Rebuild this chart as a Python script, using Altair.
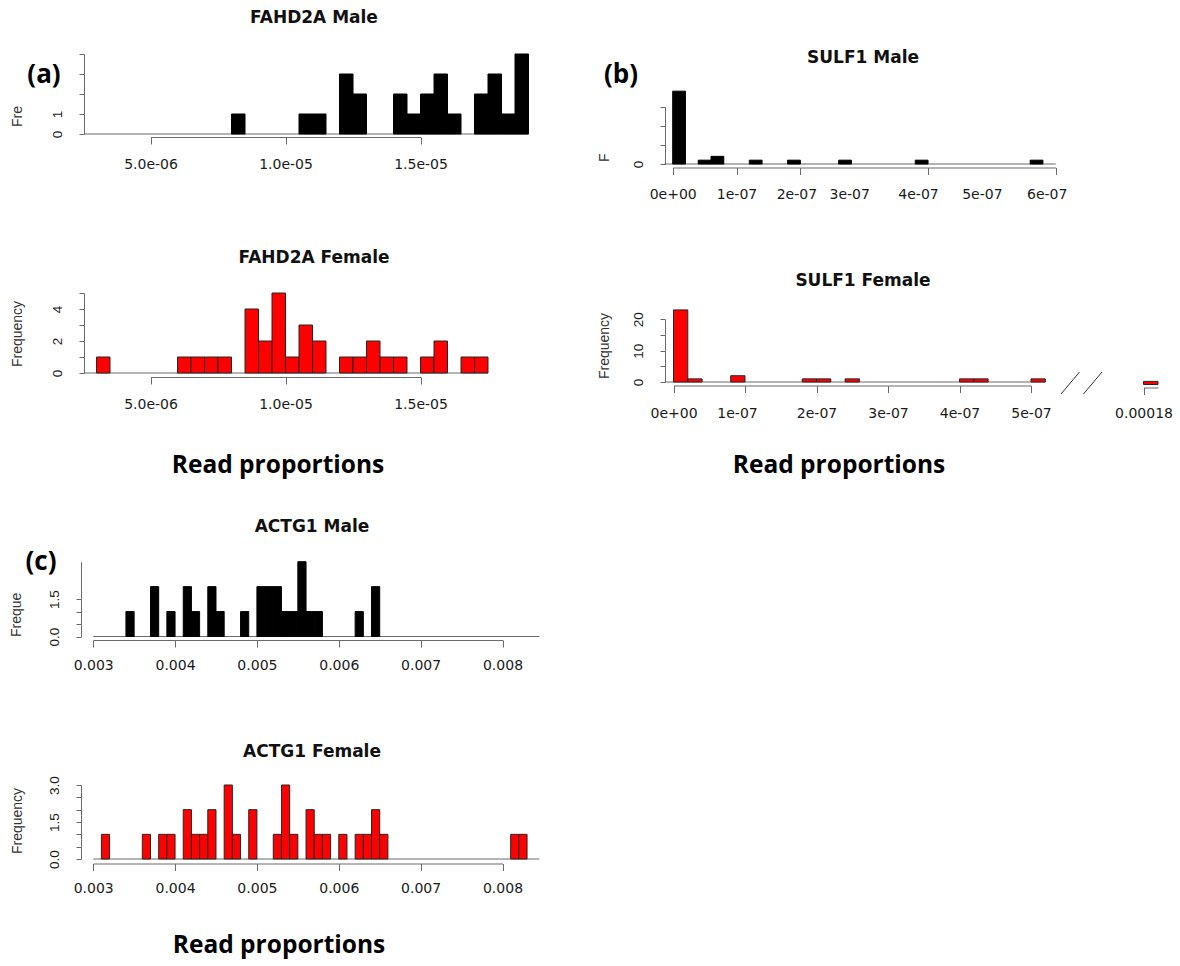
import altair as alt
import pandas as pd

# ---------------- histogram counts (one entry per bin) ----------------
fahd2a_bin_width = 5e-7
fahd2a_male_first_break = 8.0e-6
fahd2a_male_counts = [1, 0, 0, 0, 0, 1, 1, 0, 3, 2, 0, 0, 2, 1, 2, 3, 1, 0, 2, 3, 1, 4]
fahd2a_female_first_break = 3.0e-6
fahd2a_female_counts = [1, 0, 0, 0, 0, 0, 1, 1, 1, 1, 0, 4, 2, 5, 1, 3, 2, 0, 1, 1,
                        2, 1, 1, 0, 1, 2, 0, 1, 1]

sulf1_bin_width = 2e-8
sulf1_first_break = 0.0
sulf1_male_counts = [19, 0, 1, 2, 0, 0, 1, 0, 0, 1, 0, 0, 0, 1, 0, 0, 0, 0, 0, 1,
                     0, 0, 0, 0, 0, 0, 0, 0, 1, 0]
sulf1_female_counts = [23, 1, 0, 0, 2, 0, 0, 0, 0, 1, 1, 0, 1, 0, 0, 0, 0, 0, 0, 0,
                       1, 1, 0, 0, 0, 1]
sulf1_female_outlier_break = 0.00018
sulf1_female_outlier_width = 2e-6
sulf1_female_outlier_counts = [1]

actg1_bin_width = 1e-4
actg1_first_break = 0.003
actg1_male_counts = [0, 0, 0, 0, 1, 0, 0, 2, 0, 1, 0, 2, 1, 0, 2, 1, 0, 0, 1, 0,
                     2, 2, 2, 1, 1, 3, 1, 1, 0, 0, 0, 0, 1, 0, 2, 0, 0, 0, 0, 0,
                     0, 0, 0, 0, 0, 0, 0, 0, 0, 0, 0, 0, 0]
actg1_female_counts = [0, 1, 0, 0, 0, 0, 1, 0, 1, 1, 0, 2, 1, 1, 2, 0, 3, 1, 0, 2,
                       0, 0, 1, 3, 1, 0, 2, 1, 1, 0, 1, 0, 1, 1, 2, 1, 0, 0, 0, 0,
                       0, 0, 0, 0, 0, 0, 0, 0, 0, 0, 0, 1, 1]

# ---------------- tick values and their labels ----------------
fahd2a_xticks = [5e-06, 1e-05, 1.5e-05]
fahd2a_xlabels = ["5.0e-06", "1.0e-05", "1.5e-05"]
sulf1_male_xticks = [0, 1e-07, 2e-07, 3e-07, 4e-07, 5e-07, 6e-07]
sulf1_male_xlabels = ["0e+00", "1e-07", "2e-07", "3e-07", "4e-07", "5e-07", "6e-07"]
sulf1_female_xticks = [0, 1e-07, 2e-07, 3e-07, 4e-07, 5e-07]
sulf1_female_xlabels = ["0e+00", "1e-07", "2e-07", "3e-07", "4e-07", "5e-07"]
sulf1_outlier_xticks = [0.00018]
sulf1_outlier_xlabels = ["0.00018"]
actg1_xticks = [0.003, 0.004, 0.005, 0.006, 0.007, 0.008]
actg1_xlabels = ["0.003", "0.004", "0.005", "0.006", "0.007", "0.008"]

fahd2a_male_yticks = [0, 1, 2, 3, 4]
fahd2a_male_ylabels = ["0", "1", "", "", ""]
fahd2a_female_yticks = [0, 1, 2, 3, 4, 5]
fahd2a_female_ylabels = ["0", "", "2", "", "4", ""]
sulf1_male_yticks = [0, 5, 10, 15]
sulf1_male_ylabels = ["0", "", "", ""]
sulf1_female_yticks = [0, 5, 10, 15, 20]
sulf1_female_ylabels = ["0", "", "10", "", "20"]
actg1_male_yticks = [0, 0.5, 1, 1.5]
actg1_male_ylabels = ["0.0", "", "", "1.5"]
actg1_female_yticks = [0, 0.5, 1, 1.5, 2, 2.5, 3]
actg1_female_ylabels = ["0.0", "", "", "1.5", "", "", "3.0"]

# ---------------- styling / layout ----------------
H = 966
AX = "#6a6a6a"
TXT = "#1a1a1a"
TICK_X = 7
TICK_Y = 5


def bins(first, width, counts):
    return pd.DataFrame({
        "lo": [first + i * width for i in range(len(counts))],
        "hi": [first + (i + 1) * width for i in range(len(counts))],
        "count": counts,
        "base": [0] * len(counts),
    })


def lin(d0, d1, r0, r1):
    return alt.Scale(domain=[d0, d1], range=[r0, r1], nice=False, zero=False)


def label_expr(values, labels):
    parts = [f"datum.value == {v!r} ? '{s}'" for v, s in zip(values, labels)]
    return " : ".join(parts) + " : ''"


def x_axis(values, labels, line_y, label_y, **extra):
    return alt.Axis(
        orient="bottom", offset=line_y - H, values=values,
        labelExpr=label_expr(values, labels), title=None, grid=False,
        domainColor=AX, domainWidth=1, tickColor=AX, tickWidth=1, tickSize=TICK_X,
        labelFont="DejaVu Sans", labelFontSize=14, labelColor=TXT,
        labelPadding=label_y - 6 - line_y - TICK_X, labelAngle=0,
        labelAlign="center", labelBaseline="top", labelFlush=False,
        labelOverlap=False, **extra)


def y_axis(values, labels, axis_x):
    return alt.Axis(
        orient="left", offset=-axis_x, values=values,
        labelExpr=label_expr(values, labels), title=None, grid=False,
        domainColor=AX, domainWidth=1, tickColor=AX, tickWidth=1, tickSize=TICK_Y,
        labelFont="Liberation Sans", labelFontSize=13.5, labelColor=TXT,
        labelPadding=15, labelAngle=270, labelAlign="center",
        labelBaseline="bottom", labelFlush=False, labelOverlap=False)


def histogram(df, fill, stroke, xs, ys, xax, yax, base_lo=None, base_hi=None):
    out = []
    if base_lo is not None:
        base = alt.Chart(pd.DataFrame({"lo": [base_lo], "hi": [base_hi], "count": [0]})).mark_rule(
            color=AX, strokeWidth=1).encode(
            x=alt.X("lo:Q", scale=xs, axis=None), x2=alt.X2("hi"),
            y=alt.Y("count:Q", scale=ys, axis=None))
        out.append(base)
    bars = alt.Chart(df).transform_filter("datum.count > 0").mark_rect(
        fill=fill, stroke=stroke, strokeWidth=1).encode(
        x=alt.X("lo:Q", scale=xs, axis=xax), x2=alt.X2("hi"),
        y=alt.Y("count:Q", scale=ys, axis=yax), y2=alt.Y2("base"))
    out.append(bars)
    return out


MALE_FILL, MALE_STROKE = "#000000", "#000000"
FEMALE_FILL, FEMALE_STROKE = "#ff0000", "#262626"

layers = []

# FAHD2A (shared horizontal placement for both sexes)
fahd_x = lin(5e-06, 1.5e-05, 150.5, 420.5)
layers += histogram(
    bins(fahd2a_male_first_break, fahd2a_bin_width, fahd2a_male_counts),
    MALE_FILL, MALE_STROKE, fahd_x, lin(0, 4, 134, 54),
    x_axis(fahd2a_xticks, fahd2a_xlabels, 137, 163),
    y_axis(fahd2a_male_yticks, fahd2a_male_ylabels, 84),
    2.55e-6, 1.9e-5)
layers += histogram(
    bins(fahd2a_female_first_break, fahd2a_bin_width, fahd2a_female_counts),
    FEMALE_FILL, FEMALE_STROKE, fahd_x, lin(0, 5, 373, 293),
    x_axis(fahd2a_xticks, fahd2a_xlabels, 377, 403.5),
    y_axis(fahd2a_female_yticks, fahd2a_female_ylabels, 84),
    2.55e-6, 1.75e-5)

# SULF1 male
sulf_m_offsets = {"condition": [
    {"test": "datum.value == 2e-07", "value": -4},
    {"test": "datum.value == 3e-07", "value": -15},
    {"test": "datum.value == 4e-07", "value": -10},
    {"test": "datum.value == 5e-07", "value": -10},
    {"test": "datum.value == 6e-07", "value": -9}], "value": 0}
sulf_m_tick_opacity = {"condition": {"test": "datum.value == 3e-07 || datum.value == 5e-07",
                                     "value": 0}, "value": 1}
layers += histogram(
    bins(sulf1_first_break, sulf1_bin_width, sulf1_male_counts),
    MALE_FILL, MALE_STROKE, lin(0, 6e-07, 672.7, 1055.7), lin(0, 15, 164, 106.5),
    x_axis(sulf1_male_xticks, sulf1_male_xlabels, 167.5, 193,
           labelOffset=sulf_m_offsets, tickOpacity=sulf_m_tick_opacity),
    y_axis(sulf1_male_yticks, sulf1_male_ylabels, 665),
    -1.3e-8, 6e-07)

# SULF1 female, main range
layers += histogram(
    bins(sulf1_first_break, sulf1_bin_width, sulf1_female_counts),
    FEMALE_FILL, FEMALE_STROKE, lin(0, 5e-07, 673.5, 1031), lin(0, 20, 382, 319.3),
    x_axis(sulf1_female_xticks, sulf1_female_xlabels, 385.5, 412,
           labelOffset={"condition": {"test": "datum.value == 1e-07", "value": -8}, "value": 0}),
    y_axis(sulf1_female_yticks, sulf1_female_ylabels, 665),
    -1.2e-8, 5.2e-07)

# SULF1 female, outlier beyond the axis break
layers += histogram(
    bins(sulf1_female_outlier_break, sulf1_female_outlier_width, sulf1_female_outlier_counts),
    FEMALE_FILL, FEMALE_STROKE,
    lin(0.00018, 0.00018 + sulf1_female_outlier_width, 1143.5, 1158),
    lin(0, 20, 384.5, 321.8),
    x_axis(sulf1_outlier_xticks, sulf1_outlier_xlabels, 387.5, 412.7),
    None)

# ACTG1
actg_x = lin(0.003, 0.008, 93.2, 502.5)
layers += histogram(
    bins(actg1_first_break, actg1_bin_width, actg1_male_counts),
    MALE_FILL, MALE_STROKE, actg_x, lin(0, 3, 636.5, 561.7),
    x_axis(actg1_xticks, actg1_xlabels, 640, 664),
    y_axis(actg1_male_yticks, actg1_male_ylabels, 81),
    0.003, 0.00845)
layers += histogram(
    bins(actg1_first_break, actg1_bin_width, actg1_female_counts),
    FEMALE_FILL, FEMALE_STROKE, actg_x, lin(0, 3, 859, 785),
    x_axis(actg1_xticks, actg1_xlabels, 863.5, 887.7),
    y_axis(actg1_female_yticks, actg1_female_ylabels, 81),
    0.003, 0.00845)

# ---------------- annotations ----------------
def text_layer(df, **mark):
    return alt.Chart(df).mark_text(**mark).encode(
        x=alt.X("px:Q", scale=None, axis=None),
        y=alt.Y("py:Q", scale=None, axis=None),
        text=alt.Text("label:N"))


panel_titles = pd.DataFrame({
    "label": ["FAHD2A Male", "FAHD2A Female", "SULF1 Male", "SULF1 Female",
              "ACTG1 Male", "ACTG1 Female"],
    "px": [314, 314, 863, 863, 312, 312],
    "py": [18, 258, 58, 281, 527, 752],
})
panel_tags = pd.DataFrame({"label": ["(a)", "(b)", "(c)"],
                           "px": [44, 621, 41], "py": [75, 75, 562]})
x_titles = pd.DataFrame({"label": ["Read proportions"] * 3,
                         "px": [278, 839, 279], "py": [473, 473, 953]})
y_titles_full = pd.DataFrame({"label": ["Frequency"] * 3,
                              "px": [18, 605, 18], "py": [334, 346, 821]})
y_titles_cut = pd.DataFrame({"label": ["Fre", "F", "Freque"],
                             "px": [18, 605, 17], "py": [127, 162, 637]})

layers.append(text_layer(panel_titles, font="DejaVu Sans", fontWeight="bold",
                         fontSize=17, color="#111111", align="center", baseline="middle"))
layers.append(text_layer(panel_tags, font="Open Sans", fontWeight="bold",
                         fontSize=26, color="#000000", align="center", baseline="middle"))
layers.append(text_layer(x_titles, font="Open Sans", fontWeight="bold",
                         fontSize=24.5, color="#000000", align="center", baseline="alphabetic"))
layers.append(text_layer(y_titles_full, font="Liberation Sans", fontSize=14, color="#333333",
                         angle=270, align="center", baseline="middle"))
layers.append(text_layer(y_titles_cut, font="Liberation Sans", fontSize=14, color="#333333",
                         angle=270, align="left", baseline="middle"))

# axis-break marks between the SULF1 main range and the outlier
break_marks = pd.DataFrame({"px": [1061, 1083.5], "py": [394, 394],
                            "px2": [1079.5, 1102], "py2": [372, 372]})
layers.append(alt.Chart(break_marks).mark_rule(color="#333333", strokeWidth=1).encode(
    x=alt.X("px:Q", scale=None, axis=None), y=alt.Y("py:Q", scale=None, axis=None),
    x2=alt.X2("px2"), y2=alt.Y2("py2")))

chart = alt.layer(*layers).resolve_scale(x="independent", y="independent").properties(
    width=1180, height=966, padding=0,
    autosize=alt.AutoSizeParams(type="none"), background="white",
).configure_view(stroke=None)

chart.save("out.html", embed_options={"renderer": "svg", "actions": False})
